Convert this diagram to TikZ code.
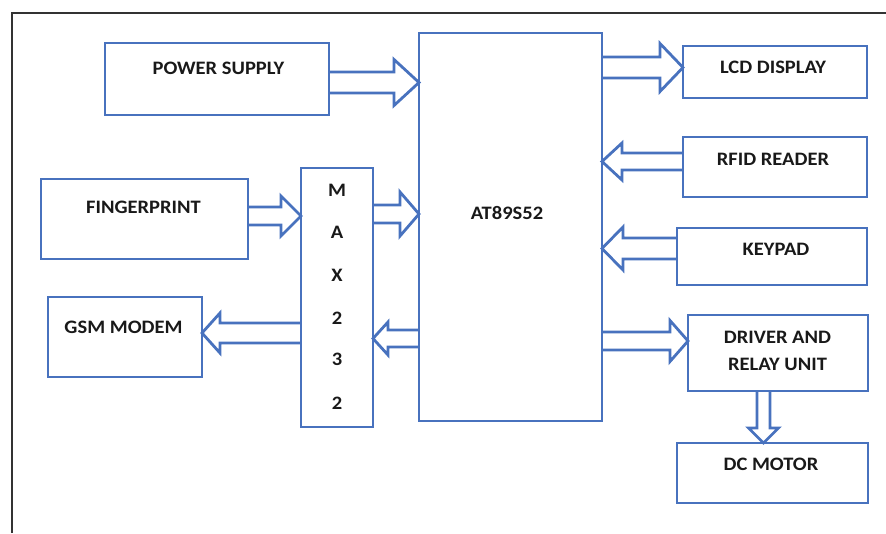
\documentclass[tikz,border=0pt]{standalone}
\usepackage{fontspec}
\setmainfont{Carlito}[FakeStretch=1.08]
\usetikzlibrary{calc}
\definecolor{lineblue}{RGB}{72,114,190}
\definecolor{txt}{RGB}{25,25,25}
\tikzset{
  blk/.style={draw=lineblue, line width=2.8pt, inner sep=0pt, outer sep=0pt, rectangle},
  lbl/.style={text=txt, font=\fontsize{19}{22}\selectfont\bfseries, inner sep=0pt},
  arr/.style={draw=lineblue, line width=2.8pt, line join=miter},
  frame/.style={draw=black!80, line width=2pt}
}
% horizontal block arrow: #1 source anchor, #2 target anchor, #3 y centre, #4 half shaft, #5 half head, #6 signed head length
\newcommand\hblock[6]{%
  \draw[arr] let \p1=(#1), \p2=(#2), \n1={\x2-(#6)} in
   ({\x1},{#3-#4}) -- ({\n1},{#3-#4}) -- ({\n1},{#3-#5}) -- ({\x2},{#3})
   -- ({\n1},{#3+#5}) -- ({\n1},{#3+#4}) -- ({\x1},{#3+#4});}
% vertical block arrow: #1 source, #2 target, #3 x centre, #4 half shaft, #5 half head, #6 signed head length (pt)
\newcommand\vblock[6]{%
  \draw[arr] let \p1=(#1), \p2=(#2), \n1={\y2+(#6)} in
   ({#3-#4},{\y1}) -- ({#3-#4},{\n1}) -- ({#3-#5},{\n1}) -- ({#3},{\y2})
   -- ({#3+#5},{\n1}) -- ({#3+#4},{\n1}) -- ({#3+#4},{\y1});}
\begin{document}
\begin{tikzpicture}[x=1pt,y=-1pt]
\useasboundingbox (0,0) rectangle (886,533);
\coordinate (fA) at (12,533);
\coordinate (fB) at (12,13);
\coordinate (fC) at (886,13);
\draw[frame] (fA) -- (fB) -- (fC);

% boxes
\node[blk, minimum width=224, minimum height=72] (ps) at (217,79) {};
\node[blk, minimum width=183, minimum height=388] (at) at (510.5,227) {};
\node[blk, minimum width=184, minimum height=52] (lcd) at (775,72) {};
\node[blk, minimum width=184, minimum height=60] (rfid) at (775,167) {};
\node[blk, minimum width=190, minimum height=57] (key) at (772,256.5) {};
\node[blk, minimum width=180, minimum height=76] (drv) at (778,353) {};
\node[blk, minimum width=191, minimum height=60] (dc) at (772.5,473) {};
\node[blk, minimum width=207, minimum height=80] (fp) at (144.5,219) {};
\node[blk, minimum width=154, minimum height=80] (gsm) at (125,337) {};
\node[blk, minimum width=72, minimum height=259] (max) at (337,297.5) {};

% labels
\node[lbl] (tps) at (218.5,68) {POWER SUPPLY};
\node[lbl] (tat) at (507,213) {AT89S52};
\node[lbl] (tlcd) at (773,67.5) {LCD DISPLAY};
\node[lbl] (trfid) at (773,159) {RFID READER};
\node[lbl] (tkey) at (776,249) {KEYPAD};
\node[lbl] (tdrv1) at (777.5,337.5) {DRIVER AND};
\node[lbl] (tdrv2) at (777.5,364.5) {RELAY UNIT};
\node[lbl] (tdc) at (771,464) {DC MOTOR};
\node[lbl] (tfp) at (143.5,207.5) {FINGERPRINT};
\node[lbl] (tgsm) at (123.5,327.5) {GSM MODEM};
\node[lbl] (m1) at (337,190) {M};
\node[lbl] (m2) at (337,232) {A};
\node[lbl] (m3) at (337,275) {X};
\node[lbl] (m4) at (337,318) {2};
\node[lbl] (m5) at (337,359) {3};
\node[lbl] (m6) at (337,403) {2};

% block arrows
\hblock{ps.east}{at.west}{82.5}{10.5}{23}{25}
\hblock{at.east}{lcd.west}{67.5}{10.5}{24}{23}
\hblock{rfid.west}{at.east}{161.5}{8.5}{18.5}{-20}
\hblock{key.west}{at.east}{248.5}{10.5}{21.5}{-21}
\hblock{at.east}{drv.west}{341}{9}{20.5}{18}
\hblock{fp.east}{max.west}{216}{9}{20}{20}
\hblock{max.east}{at.west}{214}{9}{22}{19}
\hblock{at.west}{max.east}{338.5}{8.5}{16.5}{-15}
\hblock{max.west}{gsm.east}{333}{10}{20}{-18}
\vblock{drv.south}{dc.north}{763.5}{6.5}{15}{15}
\end{tikzpicture}
\end{document}
